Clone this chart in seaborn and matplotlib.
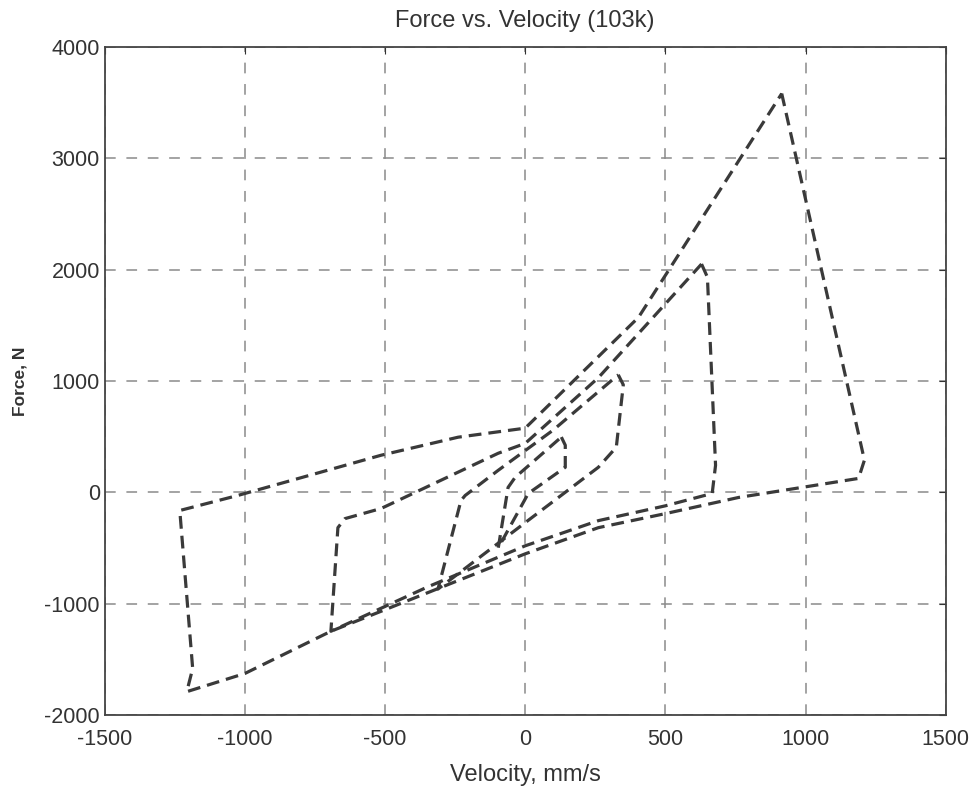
import matplotlib
matplotlib.use("Agg")
import matplotlib.pyplot as plt
import seaborn as sns
import pandas as pd

# ---- data (velocity mm/s, force N) ----
loop1_v = [915, 1210, 1189, 761, 500, 261, 0, -693, -1000, -1207, -1186, -1232, -1025, -514, -239, 0, 404, 915]
loop1_F = [3580, 290, 126, -45, -190, -316, -551, -1246, -1625, -1788, -1580, -162, -27, 334, 496, 577, 1571, 3580]

loop2_v = [629, 650, 679, 667, 500, 261, 0, -350, -693, -668, -643, -514, -96, 0, 261, 629]
loop2_F = [2050, 1932, 244, -9, -120, -253, -479, -850, -1246, -316, -235, -144, 352, 440, 1030, 2050]

loop3_v = [332, 350, 325, 261, 0, -311, -229, -214, -96, 100, 332]
loop3_F = [1056, 966, 406, 226, -271, -867, -72, -27, 199, 560, 1056]

loop4_v = [129, 143, 143, 11, -96, -61, -36, 129]
loop4_F = [497, 424, 226, -9, -497, 45, 135, 497]

x_ticks = [-1500, -1000, -500, 0, 500, 1000, 1500]
y_ticks = [-2000, -1000, 0, 1000, 2000, 3000, 4000]

title = "Force vs. Velocity (103k)"
x_label = "Velocity, mm/s"
y_label = "Force, N"

frames = []
for name, vv, ff in [("1", loop1_v, loop1_F), ("2", loop2_v, loop2_F),
                     ("3", loop3_v, loop3_F), ("4", loop4_v, loop4_F)]:
    frames.append(pd.DataFrame({"v": vv, "F": ff, "loop": name, "order": range(len(vv))}))
df = pd.concat(frames, ignore_index=True)

sns.set_style("white")
plt.rcParams['font.family'] = ['Liberation Sans', 'DejaVu Sans']

fig = plt.figure(figsize=(9.78, 7.93), dpi=100)
ax = fig.add_axes([0.107, 0.098, 0.86, 0.843])

sns.lineplot(data=df, x="v", y="F", units="loop", estimator=None, sort=False,
             color="#3a3a3a", linewidth=2.3, ax=ax, legend=False)
for line in ax.get_lines():
    line.set_dashes([4, 2.2])

ax.set_xlim(-1500, 1500)
ax.set_ylim(-2000, 4000)
ax.set_xticks(x_ticks)
ax.set_yticks(y_ticks)
ax.set_xticklabels([str(t) for t in x_ticks], fontsize=15.5, color="#333333")
ax.set_yticklabels([str(t) for t in y_ticks], fontsize=15.5, color="#333333")
ax.tick_params(direction="in", length=5, top=True, right=True, colors="#333333")
ax.tick_params(axis="x", pad=10)

ax.grid(True, color="#8a8a8a", linestyle=(0, (7, 7)), linewidth=1.1)
for sp in ax.spines.values():
    sp.set_color("#444444")
    sp.set_linewidth(1.3)

ax.set_title(title, fontsize=17, color="#333333", pad=14)
ax.set_xlabel(x_label, fontsize=17, color="#333333", labelpad=10)
ax.set_ylabel(y_label, fontsize=12.5, color="#333333", fontweight="bold")
ax.yaxis.set_label_coords(-0.092, 0.5)

fig.savefig("out.png", dpi=100, facecolor="white")
